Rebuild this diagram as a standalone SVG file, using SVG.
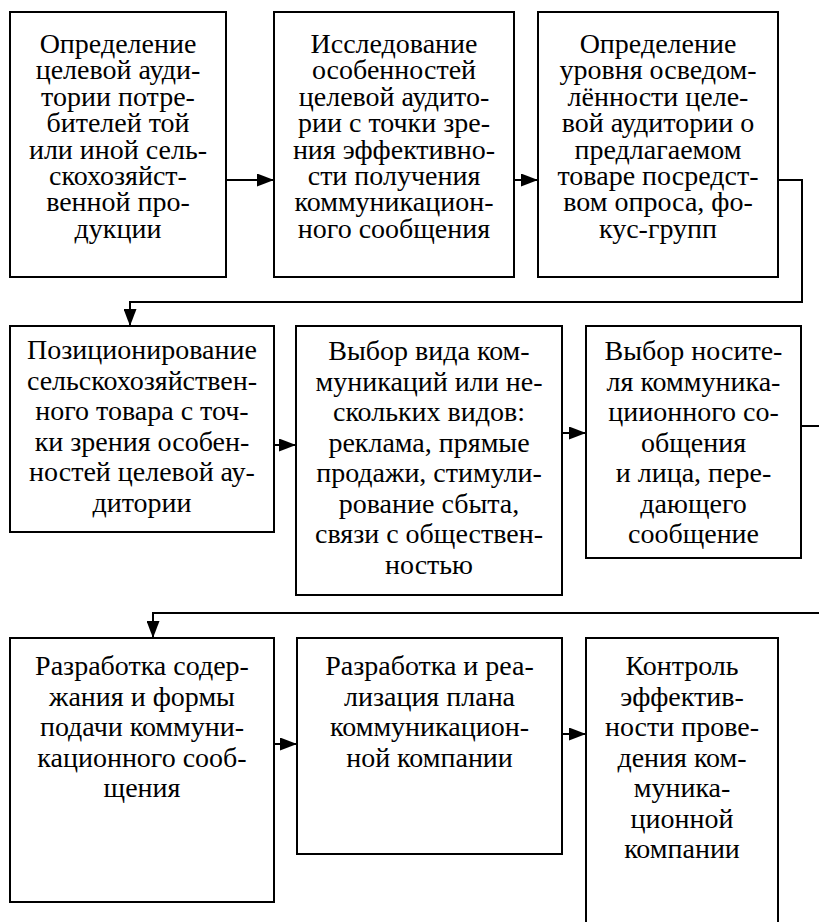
<svg xmlns="http://www.w3.org/2000/svg" width="819" height="922" viewBox="0 0 819 922">
<style>
.box{fill:#fff;stroke:#000;stroke-width:2}
.t{font-family:"Liberation Serif","Times New Roman",serif;font-size:28px;fill:#000;text-anchor:middle}
.c{fill:none;stroke:#000;stroke-width:2}
</style>
<defs>
<marker id="ah" markerUnits="userSpaceOnUse" markerWidth="17" markerHeight="13" refX="17" refY="6.5" orient="auto">
<path d="M0,0 L17,6.5 L0,13 z" fill="#000"/>
</marker>
</defs>
<rect width="819" height="922" fill="#fff"/>
<g id="n1"><rect class="box" x="10" y="12" width="216" height="265"/>
<text class="t"><tspan x="118" y="53">Определение</tspan><tspan x="118" y="79">целевой ауди-</tspan><tspan x="118" y="106">тории потре-</tspan><tspan x="118" y="132">бителей той</tspan><tspan x="118" y="159">или иной сель-</tspan><tspan x="118" y="185">скохозяйст-</tspan><tspan x="118" y="211">венной про-</tspan><tspan x="118" y="238">дукции</tspan></text></g>
<g id="n2"><rect class="box" x="274" y="12" width="240" height="265"/>
<text class="t"><tspan x="394" y="53">Исследование</tspan><tspan x="394" y="79">особенностей</tspan><tspan x="394" y="106">целевой аудито-</tspan><tspan x="394" y="132">рии с точки зре-</tspan><tspan x="394" y="159">ния эффективно-</tspan><tspan x="394" y="185">сти получения</tspan><tspan x="394" y="211">коммуникацион-</tspan><tspan x="394" y="238">ного сообщения</tspan></text></g>
<g id="n3"><rect class="box" x="538" y="12" width="240" height="265"/>
<text class="t"><tspan x="658" y="53">Определение</tspan><tspan x="658" y="79">уровня осведом-</tspan><tspan x="658" y="106">лённости целе-</tspan><tspan x="658" y="132">вой аудитории о</tspan><tspan x="658" y="159">предлагаемом</tspan><tspan x="658" y="185">товаре посредст-</tspan><tspan x="658" y="211">вом опроса, фо-</tspan><tspan x="658" y="238">кус-групп</tspan></text></g>
<g id="n4"><rect class="box" x="10" y="326" width="264" height="206"/>
<text class="t"><tspan x="142" y="359">Позиционирование</tspan><tspan x="142" y="389.5">сельскохозяйствен-</tspan><tspan x="142" y="420">ного товара с точ-</tspan><tspan x="142" y="450.5">ки зрения особен-</tspan><tspan x="142" y="481">ностей целевой ау-</tspan><tspan x="142" y="511.5">дитории</tspan></text></g>
<g id="n5"><rect class="box" x="296" y="326" width="266" height="269"/>
<text class="t"><tspan x="429" y="360">Выбор вида ком-</tspan><tspan x="429" y="390.5">муникаций или не-</tspan><tspan x="429" y="421">скольких видов:</tspan><tspan x="429" y="451.5">реклама, прямые</tspan><tspan x="429" y="482">продажи, стимули-</tspan><tspan x="429" y="512.5">рование сбыта,</tspan><tspan x="429" y="543">связи с обществен-</tspan><tspan x="429" y="573.5">ностью</tspan></text></g>
<g id="n6"><rect class="box" x="586" y="326" width="215" height="232"/>
<text class="t"><tspan x="693.5" y="360">Выбор носите-</tspan><tspan x="693.5" y="390.5">ля коммуника-</tspan><tspan x="693.5" y="421">циионного со-</tspan><tspan x="693.5" y="451.5">общения</tspan><tspan x="693.5" y="482">и лица, пере-</tspan><tspan x="693.5" y="512.5">дающего</tspan><tspan x="693.5" y="543">сообщение</tspan></text></g>
<g id="n7"><rect class="box" x="10" y="638" width="264" height="264"/>
<text class="t"><tspan x="142" y="675">Разработка содер-</tspan><tspan x="142" y="705.5">жания и формы</tspan><tspan x="142" y="736">подачи коммуни-</tspan><tspan x="142" y="766.5">кационного сооб-</tspan><tspan x="142" y="797">щения</tspan></text></g>
<g id="n8"><rect class="box" x="297" y="638" width="265" height="216"/>
<text class="t"><tspan x="429.5" y="675">Разработка и реа-</tspan><tspan x="429.5" y="705.5">лизация плана</tspan><tspan x="429.5" y="736">коммуникацион-</tspan><tspan x="429.5" y="766.5">ной компании</tspan></text></g>
<g id="n9"><rect class="box" x="586" y="638" width="192" height="300"/>
<text class="t"><tspan x="682" y="675">Контроль</tspan><tspan x="682" y="705.5">эффектив-</tspan><tspan x="682" y="736">ности прове-</tspan><tspan x="682" y="766.5">дения ком-</tspan><tspan x="682" y="797">муника-</tspan><tspan x="682" y="827.5">ционной</tspan><tspan x="682" y="858">компании</tspan></text></g>
<g id="connectors">
<path class="c" d="M226,180 H274" marker-end="url(#ah)"/>
<path class="c" d="M514,180 H538" marker-end="url(#ah)"/>
<path class="c" d="M778,180 H802 V302 H130 V326" marker-end="url(#ah)"/>
<path class="c" d="M274,445 H296" marker-end="url(#ah)"/>
<path class="c" d="M562,433 H586" marker-end="url(#ah)"/>
<path class="c" d="M801,426 H832 V613 H153 V638" marker-end="url(#ah)"/>
<path class="c" d="M274,744 H297" marker-end="url(#ah)"/>
<path class="c" d="M562,734 H586" marker-end="url(#ah)"/>
</g>
</svg>
